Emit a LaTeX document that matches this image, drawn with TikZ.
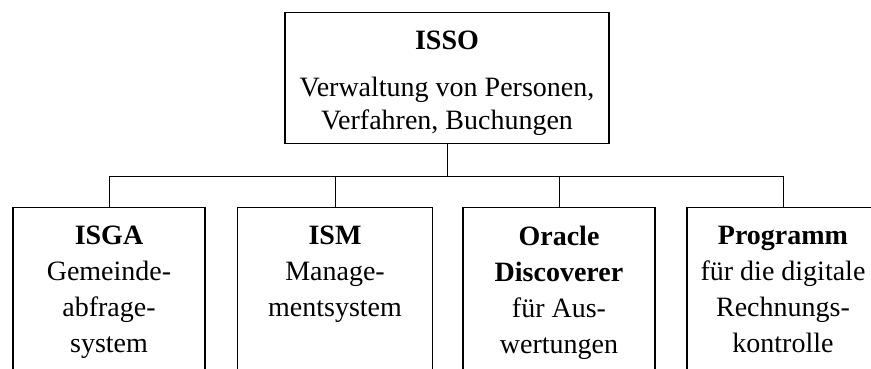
\documentclass[tikz,border=0pt]{standalone}
\usepackage{fontspec}
\setmainfont{Liberation Serif}
\usepackage{tikz}
\usetikzlibrary{positioning, calc}

\tikzset{
  orgbox/.style={draw, line width=1.4pt, minimum width=192pt, inner sep=0pt},
  orgtext/.style={align=center, inner sep=0pt, font=\fontsize{28}{36}\selectfont},
  link/.style={line width=1pt}
}

\begin{document}
\begin{tikzpicture}[x=1pt, y=1pt]
    \useasboundingbox (0,0) rectangle (871,-368);
    % top box
    \node[orgbox, minimum width=324pt, minimum height=131pt, anchor=north] (isso) at (447,-12) {};
    \node[orgtext, font=\fontsize{28}{33}\selectfont, anchor=north] (issotxt) at (447,-31) {%
      \textbf{ISSO}\\[14pt]
      Verwaltung von Personen,\\
      Verfahren, Buchungen};
    % bottom boxes
    \node[orgbox, minimum height=200pt, anchor=north] (isga) at (109,-207) {};
    \node[orgbox, minimum width=195pt, minimum height=200pt, anchor=north] (ism) at (335,-207) {};
    \node[orgbox, minimum height=200pt, anchor=north] (oracle) at (559,-207) {};
    \node[orgbox, minimum height=200pt, anchor=north] (prog) at (783,-207) {};
    \node[orgtext, anchor=north] (isgatxt) at ($(isga.north)+(0,-19)$) {%
      \textbf{ISGA}\\
      Gemeinde-\\
      abfrage-\\
      system};
    \node[orgtext, anchor=north] (ismtxt) at ($(ism.north)+(0,-19)$) {%
      \textbf{ISM}\\
      Manage-\\
      mentsystem};
    \node[orgtext, anchor=north] (oracletxt) at ($(oracle.north)+(0,-19)$) {%
      \textbf{Oracle}\\
      \textbf{Discoverer}\\
      für Aus-\\
      wertungen};
    \node[orgtext, anchor=north] (progtxt) at ($(prog.north)+(0,-19)$) {%
      \textbf{Programm}\\
      für die digitale\\
      Rechnungs-\\
      kontrolle};
    % connectors
    \foreach \n in {isga, ism, oracle, prog}
      \draw[link] (isso.south) -- ++(0,-32) -| (\n.north);
  \end{tikzpicture}
\end{document}
